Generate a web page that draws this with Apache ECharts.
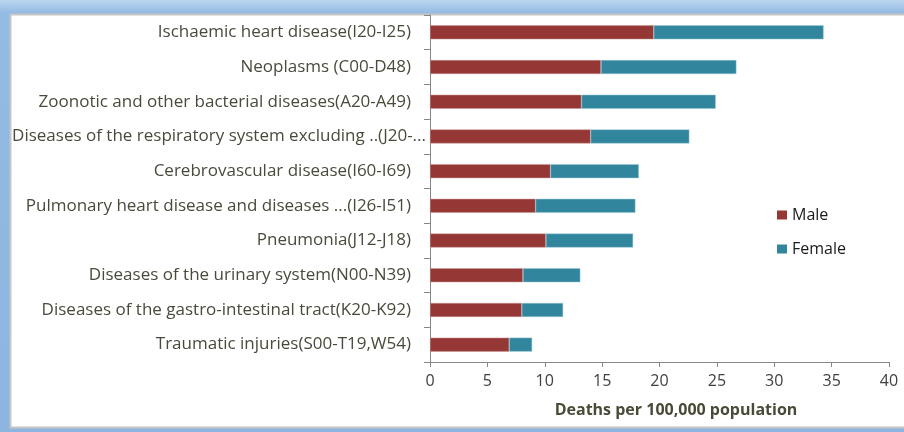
<!DOCTYPE html>
<html>
<head>
<meta charset="utf-8">
<script src="https://cdn.jsdelivr.net/npm/echarts@6/dist/echarts.min.js"></script>
<style>
	html, body { margin: 0; padding: 0; background: #fff; }
	#chart { width: 904px; height: 432px; }
</style>
</head>
<body>
<div id="chart"></div>
<script>
var causes = [
	'Ischaemic heart disease(I20-I25)',
	'Neoplasms (C00-D48)',
	'Zoonotic and other bacterial diseases(A20-A49)',
	'Diseases of the respiratory system excluding ..(J20-...',
	'Cerebrovascular disease(I60-I69)',
	'Pulmonary heart disease and diseases ...(I26-I51)',
	'Pneumonia(J12-J18)',
	'Diseases of the urinary system(N00-N39)',
	'Diseases of the gastro-intestinal tract(K20-K92)',
	'Traumatic injuries(S00-T19,W54)'
];
var male = [19.5, 14.9, 13.2, 14.0, 10.5, 9.2, 10.1, 8.1, 8.0, 6.9];
var female = [14.8, 11.8, 11.7, 8.6, 7.7, 8.7, 7.6, 5.0, 3.6, 2.0];
var xTicks = [0, 5, 10, 15, 20, 25, 30, 35, 40];

var longLabel = causes[3];
var labelFont = 'Open Sans';

function initBar(divName) {
	var myChart = echarts.init(document.getElementById(divName));
	var option = {
		animation: false,
		color: ['#953735', '#31859c'],
		graphic: [
			{
				type: 'rect', z: -10, silent: true,
				shape: { x: 0, y: 0, width: 904, height: 432 },
				style: {
					fill: new echarts.graphic.LinearGradient(0, 0, 0, 1, [
						{ offset: 0, color: '#bcd5ee' },
						{ offset: 0.03, color: '#93bbe3' },
						{ offset: 1, color: '#8cb6e0' }
					])
				}
			},
			{
				type: 'rect', z: -9, silent: true,
				shape: { x: 10.5, y: 14.5, width: 900, height: 413 },
				style: { fill: '#ffffff', stroke: '#c6c6c6', lineWidth: 2 }
			}
		],
		legend: {
			orient: 'vertical',
			left: 772,
			top: 202,
			itemWidth: 10,
			itemHeight: 9,
			itemGap: 18,
			icon: 'rect',
			itemStyle: { borderWidth: 0 },
			textStyle: { fontFamily: labelFont, fontSize: 16, color: '#1a1a1a' },
			data: ['Male', 'Female']
		},
		grid: {
			left: 430,
			right: 15,
			top: 15,
			bottom: 70,
			containLabel: false
		},
		xAxis: {
			type: 'value',
			min: 0,
			max: 40,
			interval: 5,
			name: 'Deaths per 100,000 population',
			nameLocation: 'middle',
			nameGap: 40,
			nameTextStyle: {
				fontFamily: labelFont,
				fontSize: 16,
				fontWeight: 'bold',
				color: '#4a4a38',
				padding: [0, 0, 0, 33]
			},
			axisLine: { show: true, lineStyle: { color: '#868686' } },
			axisTick: { show: true, length: 5, lineStyle: { color: '#868686' } },
			splitLine: { show: false },
			axisLabel: {
				margin: 11,
				fontFamily: labelFont,
				fontSize: 16,
				color: '#404040',
				formatter: function (v) { return xTicks.indexOf(v) >= 0 ? String(v) : ''; }
			}
		},
		yAxis: {
			type: 'category',
			inverse: true,
			data: causes,
			axisLine: { show: true, lineStyle: { color: '#868686' } },
			axisTick: { show: true, length: 6, lineStyle: { color: '#868686' } },
			axisLabel: {
				margin: 4,
				fontFamily: labelFont,
				fontSize: 17,
				color: '#4a4a3c',
				formatter: function (v) {
					return v === longLabel ? '{l|' + v + '}' : '{n|' + v + '}';
				},
				rich: {
					n: { fontFamily: labelFont, fontSize: 17, color: '#4a4a3c', padding: [0, 15, 0, 0] },
					l: { fontFamily: labelFont, fontSize: 17, color: '#4a4a3c' }
				}
			}
		},
		series: [
			{
				name: 'Male',
				type: 'bar',
				stack: 'total',
				barWidth: 14,
				itemStyle: { borderColor: '#c99a99', borderWidth: 0.5 },
				data: male
			},
			{
				name: 'Female',
				type: 'bar',
				stack: 'total',
				barWidth: 14,
				itemStyle: { borderColor: '#9ccbd8', borderWidth: 0.5 },
				data: female
			}
		]
	};

	if (option && typeof option === "object") {
		myChart.setOption(option, true);
	}
}

initBar('chart');
</script>
</body>
</html>
